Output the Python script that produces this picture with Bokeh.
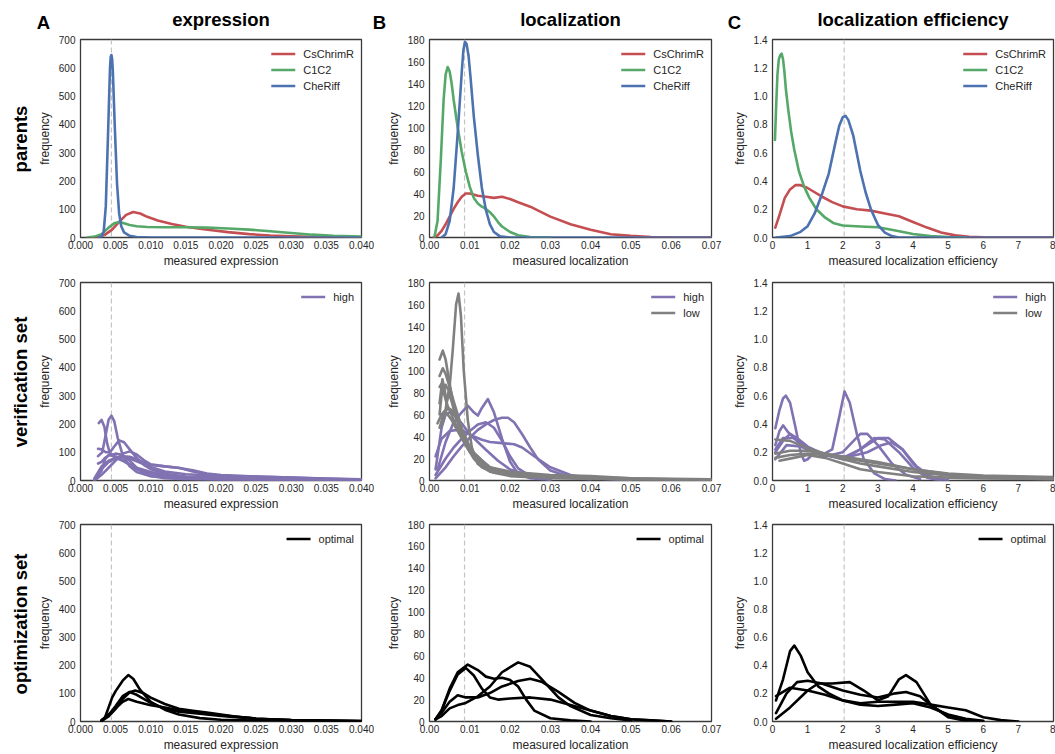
from bokeh.plotting import figure
from bokeh.layouts import column, row
from bokeh.models import (Range1d, FixedTicker, NumeralTickFormatter, Span,
                          Legend, LegendItem)
from bokeh.core.properties import value
from bokeh.embed import file_html
from bokeh.resources import INLINE

# ---------------- text / axes data ----------------
col_letters = ["A", "B", "C"]
col_titles = ["expression", "localization", "localization efficiency"]
row_titles = ["parents", "verification set", "optimization set"]
x_axis_titles = ["measured expression", "measured localization", "measured localization efficiency"]
y_axis_title = "frequency"

expr_xticks = [0.0, 0.005, 0.010, 0.015, 0.020, 0.025, 0.030, 0.035, 0.040]
loc_xticks = [0.0, 0.01, 0.02, 0.03, 0.04, 0.05, 0.06, 0.07]
eff_xticks = [0, 1, 2, 3, 4, 5, 6, 7, 8]
expr_yticks = [0, 100, 200, 300, 400, 500, 600, 700]
loc_yticks = [0, 20, 40, 60, 80, 100, 120, 140, 160, 180]
eff_yticks = [0.0, 0.2, 0.4, 0.6, 0.8, 1.0, 1.2, 1.4]
x_limits = [(0.0, 0.04), (0.0, 0.07), (0.0, 8.0)]
y_limits = [(0, 700), (0, 180), (0.0, 1.4)]
ref_lines = [0.0044, 0.0087, 2.04]

# ---------------- curves: (x, frequency) pairs ----------------
# parents
expr_cschrimr = [(0.0015, 0), (0.0025, 2), (0.0035, 10), (0.0045, 28), (0.0055, 55), (0.0065, 80),
                 (0.0075, 90), (0.0085, 85), (0.0095, 73), (0.011, 60), (0.013, 48), (0.015, 38),
                 (0.017, 31), (0.019, 25), (0.021, 19), (0.024, 12), (0.027, 7), (0.030, 4),
                 (0.034, 2), (0.040, 1)]
expr_c1c2 = [(0.001, 0), (0.002, 3), (0.003, 12), (0.004, 35), (0.0048, 50), (0.0055, 55),
             (0.0062, 50), (0.007, 44), (0.008, 40), (0.0095, 37), (0.012, 36), (0.015, 36),
             (0.018, 35), (0.021, 32), (0.024, 28), (0.027, 22), (0.030, 16), (0.033, 10),
             (0.036, 6), (0.040, 3)]
expr_cheriff = [(0.0025, 0), (0.003, 3), (0.0033, 20), (0.0036, 110), (0.0039, 350), (0.0042, 600),
                (0.0043, 638), (0.0044, 645), (0.0045, 632), (0.0046, 590), (0.0049, 380),
                (0.0052, 190), (0.0055, 85), (0.0058, 40), (0.0062, 18), (0.007, 6), (0.008, 2),
                (0.010, 0), (0.040, 0)]

loc_cschrimr = [(0.001, 0), (0.002, 2), (0.003, 6), (0.004, 12), (0.005, 19), (0.006, 26),
                (0.007, 32), (0.008, 37), (0.009, 40), (0.010, 40), (0.012, 38), (0.014, 37),
                (0.016, 36), (0.018, 37), (0.020, 35), (0.022, 32), (0.025, 28), (0.030, 19),
                (0.035, 12), (0.040, 7), (0.045, 3), (0.050, 1.5), (0.055, 0.5), (0.060, 0),
                (0.070, 0)]
loc_c1c2 = [(0.0012, 0), (0.002, 15), (0.0028, 70), (0.0035, 125), (0.004, 148), (0.0045, 155),
            (0.005, 151), (0.0055, 140), (0.006, 125), (0.007, 100), (0.008, 78), (0.009, 60),
            (0.010, 46), (0.011, 36), (0.012, 31), (0.013, 28), (0.014, 26), (0.015, 23),
            (0.016, 19), (0.017, 14), (0.018, 10), (0.020, 5), (0.022, 2), (0.025, 0.5),
            (0.030, 0)]
loc_cheriff = [(0.003, 0), (0.004, 3), (0.005, 15), (0.006, 45), (0.007, 95), (0.008, 150),
               (0.0084, 170), (0.0088, 178), (0.0092, 176), (0.0097, 165), (0.0102, 145),
               (0.011, 110), (0.012, 75), (0.013, 45), (0.014, 25), (0.015, 12), (0.016, 5),
               (0.0175, 1), (0.020, 0), (0.070, 0)]

eff_cschrimr = [(0.08, 0.07), (0.2, 0.16), (0.35, 0.28), (0.5, 0.34), (0.65, 0.37), (0.8, 0.37),
                (1.0, 0.35), (1.2, 0.32), (1.4, 0.29), (1.7, 0.25), (2.0, 0.22), (2.4, 0.20),
                (2.8, 0.19), (3.2, 0.17), (3.6, 0.15), (4.0, 0.11), (4.4, 0.07), (4.8, 0.035),
                (5.2, 0.015), (5.6, 0.005), (6.0, 0.002), (7.0, 0.0), (8.0, 0.0)]
eff_c1c2 = [(0.07, 0.69), (0.1, 0.9), (0.14, 1.15), (0.18, 1.26), (0.22, 1.29), (0.26, 1.30),
            (0.3, 1.26), (0.34, 1.17), (0.38, 1.05), (0.45, 0.90), (0.53, 0.75), (0.62, 0.62),
            (0.75, 0.47), (0.9, 0.36), (1.05, 0.28), (1.25, 0.20), (1.5, 0.14), (1.75, 0.10),
            (2.0, 0.085), (2.5, 0.078), (3.0, 0.072), (3.5, 0.05), (4.0, 0.025), (4.5, 0.01),
            (5.0, 0.003), (5.5, 0.0)]
eff_cheriff = [(0.1, 0.0), (0.5, 0.01), (0.8, 0.04), (1.0, 0.08), (1.2, 0.17), (1.4, 0.30),
               (1.6, 0.45), (1.8, 0.68), (1.9, 0.79), (2.0, 0.85), (2.08, 0.86), (2.16, 0.83),
               (2.3, 0.72), (2.5, 0.47), (2.65, 0.32), (2.8, 0.20), (3.0, 0.09), (3.2, 0.035),
               (3.4, 0.01), (3.6, 0.0), (8.0, 0.0)]

# verification set - expression (high)
expr_high_1 = [(0.0026, 203), (0.003, 214), (0.0034, 190), (0.0038, 130), (0.0042, 95), (0.005, 80),
               (0.006, 70), (0.007, 55), (0.008, 40), (0.010, 25), (0.012, 15), (0.015, 8),
               (0.020, 5), (0.030, 3), (0.040, 2)]
expr_high_2 = [(0.0025, 86), (0.0031, 100), (0.0035, 150), (0.004, 215), (0.0044, 229),
               (0.0048, 210), (0.0053, 150), (0.006, 90), (0.007, 50), (0.008, 30), (0.010, 15),
               (0.015, 6), (0.020, 3), (0.030, 1), (0.040, 0)]
expr_high_3 = [(0.0025, 112), (0.003, 110), (0.0036, 100), (0.0042, 100), (0.0048, 120),
               (0.0055, 142), (0.0062, 135), (0.007, 110), (0.008, 80), (0.009, 55), (0.010, 40),
               (0.012, 25), (0.015, 12), (0.020, 5), (0.030, 2), (0.040, 1)]
expr_high_4 = [(0.002, 5), (0.003, 40), (0.004, 65), (0.005, 78), (0.006, 86), (0.007, 84),
               (0.008, 75), (0.009, 63), (0.010, 55), (0.012, 50), (0.014, 45), (0.016, 32),
               (0.018, 22), (0.020, 17), (0.025, 12), (0.030, 8), (0.035, 5), (0.040, 3)]
expr_high_5 = [(0.002, 8), (0.003, 50), (0.004, 70), (0.005, 80), (0.006, 82), (0.007, 78),
               (0.008, 68), (0.010, 48), (0.012, 32), (0.015, 22), (0.020, 17), (0.025, 14),
               (0.030, 10), (0.035, 7), (0.040, 4)]
expr_high_6 = [(0.0025, 60), (0.003, 66), (0.0035, 80), (0.004, 88), (0.005, 95), (0.006, 90),
               (0.007, 70), (0.008, 45), (0.009, 27), (0.010, 16), (0.012, 8), (0.015, 5),
               (0.020, 3), (0.040, 1)]
expr_high_7 = [(0.002, 0), (0.003, 20), (0.004, 45), (0.005, 70), (0.006, 95), (0.007, 103),
               (0.008, 92), (0.009, 72), (0.010, 57), (0.012, 50), (0.014, 44), (0.016, 36),
               (0.018, 25), (0.020, 19), (0.025, 14), (0.030, 10), (0.035, 6), (0.040, 3)]
expr_high_8 = [(0.002, 2), (0.003, 35), (0.0035, 75), (0.004, 90), (0.005, 85), (0.006, 72),
               (0.007, 58), (0.008, 45), (0.010, 30), (0.012, 20), (0.015, 14), (0.020, 10),
               (0.030, 5), (0.040, 3)]

# verification set - localization
loc_high_1 = [(0.002, 10), (0.004, 35), (0.006, 53), (0.008, 62), (0.0095, 68), (0.011, 62),
              (0.012, 59), (0.013, 66), (0.0145, 74), (0.016, 62), (0.018, 38), (0.020, 17),
              (0.022, 6), (0.025, 2), (0.030, 0.5)]
loc_high_2 = [(0.0015, 2), (0.004, 12), (0.006, 22), (0.008, 31), (0.010, 39), (0.012, 46),
              (0.014, 51), (0.016, 55), (0.018, 57), (0.0195, 57), (0.021, 53), (0.023, 42),
              (0.025, 30), (0.027, 19), (0.030, 9), (0.035, 3), (0.040, 1)]
loc_high_3 = [(0.0015, 5), (0.004, 20), (0.006, 30), (0.008, 38), (0.010, 45), (0.012, 51),
              (0.014, 53), (0.016, 48), (0.018, 36), (0.020, 22), (0.022, 11), (0.025, 4),
              (0.030, 1)]
loc_high_4 = [(0.0015, 22), (0.003, 38), (0.005, 45), (0.007, 46), (0.009, 44), (0.011, 40),
              (0.013, 37), (0.015, 35), (0.018, 34), (0.021, 33), (0.023, 30), (0.026, 22),
              (0.030, 12), (0.035, 5), (0.040, 2), (0.045, 1), (0.050, 0)]
loc_high_5 = [(0.0015, 10), (0.003, 48), (0.004, 60), (0.005, 62), (0.006, 60), (0.008, 52),
              (0.010, 42), (0.012, 35), (0.014, 28), (0.017, 18), (0.020, 10), (0.025, 4),
              (0.030, 1)]
loc_low_1 = [(0.003, 50), (0.004, 65), (0.005, 85), (0.0058, 120), (0.0066, 160), (0.0072, 170),
             (0.0078, 150), (0.0085, 100), (0.0095, 55), (0.0105, 30), (0.012, 15), (0.015, 8),
             (0.020, 5), (0.030, 3), (0.040, 2), (0.050, 1), (0.070, 0)]
loc_low_2 = [(0.0025, 110), (0.0033, 118), (0.004, 110), (0.005, 88), (0.006, 68), (0.007, 55),
             (0.008, 45), (0.010, 28), (0.012, 17), (0.015, 9), (0.020, 5), (0.030, 3),
             (0.040, 2), (0.050, 1), (0.070, 0.5)]
loc_low_3 = [(0.0025, 95), (0.0033, 102), (0.004, 97), (0.005, 85), (0.006, 72), (0.008, 48),
             (0.010, 30), (0.012, 19), (0.015, 10), (0.020, 5), (0.030, 3), (0.050, 1),
             (0.070, 0)]
loc_low_4 = [(0.0025, 70), (0.0032, 92), (0.0038, 82), (0.0042, 70), (0.0047, 80), (0.0055, 72),
             (0.0065, 58), (0.008, 42), (0.010, 28), (0.015, 12), (0.020, 6), (0.030, 4),
             (0.040, 3), (0.060, 1), (0.070, 0.5)]
loc_low_5 = [(0.0025, 60), (0.003, 78), (0.004, 87), (0.005, 80), (0.006, 68), (0.008, 45),
             (0.010, 29), (0.015, 11), (0.020, 6), (0.030, 3), (0.050, 1)]
loc_low_6 = [(0.0025, 48), (0.0035, 60), (0.0046, 66), (0.0055, 64), (0.0065, 58), (0.008, 45),
             (0.010, 30), (0.012, 20), (0.015, 12), (0.020, 8), (0.030, 5), (0.040, 4),
             (0.050, 2), (0.070, 1)]
loc_low_7 = [(0.002, 52), (0.003, 60), (0.0037, 63), (0.0045, 60), (0.0055, 55), (0.007, 45),
             (0.009, 32), (0.011, 20), (0.013, 12), (0.016, 7), (0.020, 4), (0.030, 2),
             (0.050, 1)]
loc_low_8 = [(0.0025, 85), (0.003, 88), (0.0035, 80), (0.0045, 68), (0.006, 55), (0.008, 40),
             (0.010, 26), (0.013, 14), (0.017, 8), (0.025, 5), (0.035, 3), (0.050, 1)]

# verification set - localization efficiency
eff_high_1 = [(0.08, 0.37), (0.2, 0.50), (0.3, 0.58), (0.38, 0.60), (0.5, 0.55), (0.65, 0.38),
              (0.8, 0.20), (0.9, 0.14), (1.0, 0.15), (1.2, 0.20), (1.5, 0.18), (2.0, 0.16),
              (2.5, 0.22), (3.0, 0.30), (3.3, 0.30), (3.7, 0.22), (4.0, 0.12), (4.3, 0.05),
              (4.6, 0.01), (5.0, 0.0)]
eff_high_2 = [(0.08, 0.22), (0.3, 0.30), (0.6, 0.30), (1.0, 0.23), (1.4, 0.18), (1.7, 0.22),
              (1.9, 0.45), (2.05, 0.63), (2.2, 0.55), (2.4, 0.33), (2.6, 0.15), (2.9, 0.05),
              (3.2, 0.01), (3.5, 0.0)]
eff_high_3 = [(0.08, 0.25), (0.2, 0.35), (0.3, 0.39), (0.45, 0.34), (0.7, 0.28), (1.0, 0.22),
              (1.5, 0.17), (2.0, 0.20), (2.5, 0.33), (2.7, 0.33), (3.0, 0.25), (3.4, 0.12),
              (3.8, 0.04), (4.2, 0.01)]
eff_high_4 = [(0.08, 0.20), (0.3, 0.28), (0.5, 0.33), (0.7, 0.30), (1.0, 0.24), (1.5, 0.18),
              (2.0, 0.15), (2.5, 0.22), (2.9, 0.30), (3.2, 0.29), (3.6, 0.20), (4.0, 0.09),
              (4.4, 0.02), (4.8, 0.0)]
eff_high_5 = [(0.08, 0.15), (0.4, 0.25), (0.8, 0.24), (1.2, 0.20), (1.7, 0.17), (2.2, 0.17),
              (2.7, 0.20), (3.1, 0.25), (3.4, 0.27), (3.7, 0.22), (4.1, 0.10), (4.5, 0.03),
              (5.0, 0.0)]
eff_low_1 = [(0.08, 0.29), (0.5, 0.28), (1.0, 0.23), (1.5, 0.19), (2.0, 0.15), (2.5, 0.12),
             (3.0, 0.10), (3.5, 0.08), (4.0, 0.06), (5.0, 0.035), (6.0, 0.02), (7.0, 0.015),
             (8.0, 0.01)]
eff_low_2 = [(0.08, 0.19), (0.5, 0.21), (1.0, 0.21), (1.5, 0.19), (2.0, 0.17), (3.0, 0.13),
             (4.0, 0.08), (5.0, 0.045), (6.0, 0.025), (7.0, 0.015), (8.0, 0.01)]
eff_low_3 = [(0.08, 0.16), (0.5, 0.18), (1.0, 0.19), (1.5, 0.18), (2.0, 0.16), (3.0, 0.12),
             (4.0, 0.08), (5.0, 0.05), (6.0, 0.035), (7.0, 0.03), (8.0, 0.025)]
eff_low_4 = [(0.2, 0.14), (0.6, 0.16), (1.0, 0.18), (1.5, 0.16), (2.0, 0.12), (2.5, 0.08),
             (3.0, 0.06), (4.0, 0.03), (5.0, 0.02), (6.0, 0.015), (8.0, 0.01)]

# optimization set (optimal)
expr_opt_1 = [(0.003, 0), (0.0035, 15), (0.004, 50), (0.0045, 85), (0.005, 108), (0.006, 145),
              (0.0068, 165), (0.0075, 152), (0.0085, 112), (0.010, 70), (0.012, 42), (0.014, 25),
              (0.017, 12), (0.020, 6), (0.025, 3), (0.030, 1), (0.040, 0)]
expr_opt_2 = [(0.003, 2), (0.004, 18), (0.005, 45), (0.006, 80), (0.007, 104), (0.0078, 110),
              (0.009, 100), (0.010, 85), (0.012, 62), (0.014, 45), (0.016, 38), (0.018, 32),
              (0.020, 25), (0.022, 18), (0.025, 10), (0.030, 5), (0.035, 3), (0.040, 2)]
expr_opt_3 = [(0.003, 3), (0.004, 22), (0.005, 55), (0.006, 90), (0.007, 105), (0.008, 95),
              (0.010, 66), (0.012, 46), (0.014, 35), (0.017, 28), (0.020, 20), (0.025, 10),
              (0.030, 5), (0.040, 2)]
expr_opt_4 = [(0.003, 5), (0.004, 25), (0.005, 47), (0.006, 70), (0.0068, 80), (0.008, 70),
              (0.010, 58), (0.012, 50), (0.014, 40), (0.017, 30), (0.020, 22), (0.025, 10),
              (0.030, 4), (0.040, 1)]
loc_opt_1 = [(0.0015, 2), (0.003, 10), (0.005, 30), (0.007, 45), (0.0095, 52), (0.012, 47),
             (0.014, 41), (0.016, 39), (0.018, 40), (0.020, 38), (0.022, 32), (0.024, 20),
             (0.026, 10), (0.030, 3), (0.035, 1), (0.040, 0)]
loc_opt_2 = [(0.0015, 2), (0.003, 10), (0.005, 28), (0.007, 43), (0.009, 49), (0.011, 42),
             (0.013, 30), (0.015, 22), (0.017, 20), (0.020, 21), (0.025, 22), (0.030, 20),
             (0.035, 15), (0.040, 10), (0.045, 5), (0.050, 2), (0.055, 1), (0.060, 0)]
loc_opt_3 = [(0.0015, 2), (0.003, 5), (0.005, 12), (0.007, 15), (0.009, 17), (0.012, 23),
             (0.015, 32), (0.018, 45), (0.022, 54), (0.025, 50), (0.028, 38), (0.032, 22),
             (0.035, 14), (0.040, 6), (0.045, 3), (0.050, 1)]
loc_opt_4 = [(0.0015, 2), (0.003, 8), (0.005, 18), (0.007, 24), (0.009, 22), (0.012, 22),
             (0.015, 26), (0.018, 32), (0.022, 37), (0.025, 39), (0.028, 36), (0.032, 27),
             (0.036, 17), (0.040, 10), (0.045, 5), (0.050, 2), (0.060, 0)]
eff_opt_1 = [(0.1, 0.15), (0.3, 0.30), (0.5, 0.50), (0.62, 0.54), (0.8, 0.47), (1.0, 0.35),
             (1.3, 0.25), (1.6, 0.20), (2.0, 0.15), (2.5, 0.12), (3.0, 0.11), (3.5, 0.12),
             (4.0, 0.13), (4.5, 0.10), (5.0, 0.05), (5.5, 0.02), (6.0, 0.005)]
eff_opt_2 = [(0.1, 0.06), (0.4, 0.20), (0.7, 0.28), (1.0, 0.29), (1.4, 0.27), (2.0, 0.22),
             (2.5, 0.19), (3.0, 0.17), (3.5, 0.20), (3.8, 0.21), (4.2, 0.18), (4.6, 0.10),
             (5.0, 0.04), (5.5, 0.01), (6.0, 0.0)]
eff_opt_3 = [(0.1, 0.02), (0.5, 0.10), (1.0, 0.22), (1.3, 0.27), (1.7, 0.27), (2.2, 0.28),
             (2.6, 0.22), (3.0, 0.15), (3.3, 0.18), (3.6, 0.30), (3.8, 0.33), (4.1, 0.28),
             (4.5, 0.12), (5.0, 0.03), (5.5, 0.005)]
eff_opt_4 = [(0.1, 0.18), (0.5, 0.24), (1.0, 0.22), (1.5, 0.19), (2.0, 0.15), (2.5, 0.13),
             (3.0, 0.14), (3.5, 0.14), (4.0, 0.14), (4.5, 0.12), (5.0, 0.10), (5.5, 0.08),
             (6.0, 0.03), (6.5, 0.01), (7.0, 0.0)]

# colours
RED, GREEN, BLUE = "#C44E52", "#55A868", "#4C72B0"
PURPLE, GRAY, BLACK = "#8172B2", "#808080", "#000000"

# ---------------- panel content: groups of (legend label, colour, curves) ----------------
panels = [
    [  # parents
        [("CsChrimR", RED, [expr_cschrimr]), ("C1C2", GREEN, [expr_c1c2]), ("CheRiff", BLUE, [expr_cheriff])],
        [("CsChrimR", RED, [loc_cschrimr]), ("C1C2", GREEN, [loc_c1c2]), ("CheRiff", BLUE, [loc_cheriff])],
        [("CsChrimR", RED, [eff_cschrimr]), ("C1C2", GREEN, [eff_c1c2]), ("CheRiff", BLUE, [eff_cheriff])],
    ],
    [  # verification set
        [("high", PURPLE, [expr_high_1, expr_high_2, expr_high_3, expr_high_4,
                           expr_high_5, expr_high_6, expr_high_7, expr_high_8])],
        [("high", PURPLE, [loc_high_1, loc_high_2, loc_high_3, loc_high_4, loc_high_5]),
         ("low", GRAY, [loc_low_1, loc_low_2, loc_low_3, loc_low_4,
                        loc_low_5, loc_low_6, loc_low_7, loc_low_8])],
        [("high", PURPLE, [eff_high_1, eff_high_2, eff_high_3, eff_high_4, eff_high_5]),
         ("low", GRAY, [eff_low_1, eff_low_2, eff_low_3, eff_low_4])],
    ],
    [  # optimization set
        [("optimal", BLACK, [expr_opt_1, expr_opt_2, expr_opt_3, expr_opt_4])],
        [("optimal", BLACK, [loc_opt_1, loc_opt_2, loc_opt_3, loc_opt_4])],
        [("optimal", BLACK, [eff_opt_1, eff_opt_2, eff_opt_3, eff_opt_4])],
    ],
]

FONT = "Liberation Sans"
TXT = "#262626"
xticks = [expr_xticks, loc_xticks, eff_xticks]
yticks = [expr_yticks, loc_yticks, eff_yticks]
xfmt = ["0.000", "0.00", "0"]
yfmt = ["0", "0", "0.0"]

# ---------------- layout (pixels) ----------------
W, H = 1055, 754
header_h = 33
strip_w = 34
col_border_left = [46, 54, 49]
col_frame_w = [281, 282, 281]
col_border_right = [14, 12, 2]
row_border_top = [6, 12, 11]
frame_h = 199
row_border_bottom = [32, 32, 31]
letter_px = [43, 379, 734]          # page x of the panel letters
letter_mid = 22                      # page y of the letters' middle
title_mid = 18.5                     # page y of the column titles' middle
row_label_x = 20                     # page x of the row labels' middle


def style_blank(p):
    p.outline_line_color = None
    p.background_fill_color = "white"
    p.border_fill_color = "white"
    p.xgrid.visible = False
    p.ygrid.visible = False


def make_panel(ri, ci):
    w = col_border_left[ci] + col_frame_w[ci] + col_border_right[ci]
    h = row_border_top[ri] + frame_h + row_border_bottom[ri]
    p = figure(width=w, height=h, output_backend="svg", toolbar_location=None, title=None,
               x_range=Range1d(*x_limits[ci]), y_range=Range1d(*y_limits[ci]),
               min_border_left=col_border_left[ci], min_border_right=col_border_right[ci],
               min_border_top=row_border_top[ri], min_border_bottom=row_border_bottom[ri])
    p.outline_line_color = "#3a3a3a"
    p.outline_line_width = 1.3
    p.xgrid.visible = False
    p.ygrid.visible = False
    p.background_fill_color = "white"
    p.border_fill_color = "white"
    for ax in (p.xaxis[0], p.yaxis[0]):
        ax.axis_line_color = None
        ax.major_tick_line_color = None
        ax.minor_tick_line_color = None
        ax.major_tick_out = 0
        ax.major_tick_in = 0
        ax.minor_tick_out = 0
        ax.minor_tick_in = 0
        ax.major_label_text_font = FONT
        ax.major_label_text_font_size = "10px"
        ax.major_label_text_color = TXT
        ax.axis_label_text_font = FONT
        ax.axis_label_text_font_size = "12px"
        ax.axis_label_text_font_style = "normal"
        ax.axis_label_text_color = TXT
    p.xaxis[0].ticker = FixedTicker(ticks=xticks[ci])
    p.yaxis[0].ticker = FixedTicker(ticks=yticks[ci])
    p.xaxis[0].formatter = NumeralTickFormatter(format=xfmt[ci])
    p.yaxis[0].formatter = NumeralTickFormatter(format=yfmt[ci])
    p.xaxis[0].axis_label = x_axis_titles[ci]
    p.yaxis[0].axis_label = y_axis_title
    p.xaxis[0].major_label_standoff = 3
    p.xaxis[0].axis_label_standoff = 2
    p.yaxis[0].major_label_standoff = 5
    p.yaxis[0].axis_label_standoff = 4

    p.add_layout(Span(location=ref_lines[ci], dimension="height", line_color="#c4c4c4",
                      line_width=1.2, line_dash="5 3", level="underlay"))

    items = []
    for label, color, curves in panels[ri][ci]:
        rends = []
        for c in curves:
            xs = [pt[0] for pt in c]
            ys = [pt[1] for pt in c]
            r = p.line(xs, ys, line_color=color, line_width=2.6, line_join="round",
                       line_cap="round")
            rends.append(r)
        items.append(LegendItem(label=label, renderers=[rends[0]]))
    legend = Legend(items=items, location="top_right", border_line_alpha=0,
                    background_fill_alpha=0, label_text_font=FONT,
                    label_text_font_size="11px", label_text_color=TXT,
                    glyph_width=24, glyph_height=15, label_height=15, label_standoff=8,
                    spacing=1, padding=2, margin=5)
    p.add_layout(legend)
    return p


# header with panel letters and column titles (page-pixel coordinates)
header = figure(width=W, height=header_h, output_backend="svg", toolbar_location=None, title=None,
                x_range=Range1d(0, W), y_range=Range1d(0, header_h),
                x_axis_type=None, y_axis_type=None,
                min_border_left=0, min_border_right=0, min_border_top=0, min_border_bottom=0)
style_blank(header)
frame_left_px = []
acc = strip_w
for ci in range(3):
    frame_left_px.append(acc + col_border_left[ci])
    acc += col_border_left[ci] + col_frame_w[ci] + col_border_right[ci]
title_cx = [frame_left_px[ci] + col_frame_w[ci] / 2 for ci in range(3)]
header.text(x=letter_px, y=[header_h - letter_mid] * 3, text=col_letters,
            text_font=value(FONT), text_font_size=value("18.5px"), text_font_style="bold",
            text_align="center", text_baseline="middle", text_color="black")
header.text(x=title_cx, y=[header_h - title_mid] * 3, text=col_titles,
            text_font=value(FONT), text_font_size=value("18.5px"), text_font_style="bold",
            text_align="center", text_baseline="middle", text_color="black")

# left strip with row titles
body_h = H - header_h
strip = figure(width=strip_w, height=body_h, output_backend="svg", toolbar_location=None, title=None,
               x_range=Range1d(0, strip_w), y_range=Range1d(0, body_h),
               x_axis_type=None, y_axis_type=None,
               min_border_left=0, min_border_right=0, min_border_top=0, min_border_bottom=0)
style_blank(strip)
row_cy = []
acc = 0
for ri in range(3):
    row_cy.append(body_h - (acc + row_border_top[ri] + frame_h / 2))
    acc += row_border_top[ri] + frame_h + row_border_bottom[ri]
strip.text(x=[row_label_x] * 3, y=row_cy, text=row_titles, angle=90, angle_units="deg",
           text_font=value(FONT), text_font_size=value("18.5px"), text_font_style="bold",
           text_align="center", text_baseline="middle", text_color="black")

grid_rows = [row(*[make_panel(ri, ci) for ci in range(3)], spacing=0) for ri in range(3)]
layout = column(header, row(strip, column(*grid_rows, spacing=0), spacing=0), spacing=0)

open("out.html", "w").write(file_html(layout, INLINE))
